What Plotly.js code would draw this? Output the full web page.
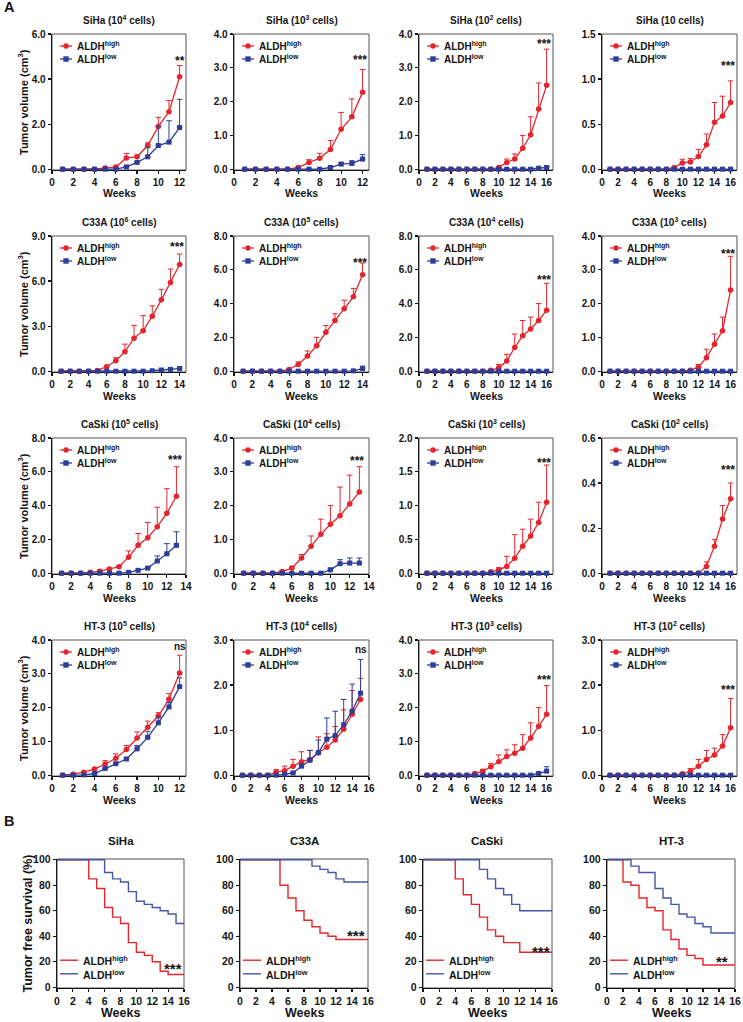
<!DOCTYPE html>
<html>
<head>
<meta charset="utf-8">
<script src="https://cdn.plot.ly/plotly-3.0.1.min.js"></script>
<style>
html,body{margin:0;padding:0;background:#ffffff;}
#chart{width:743px;height:1022px;}
</style>
</head>
<body>
<div id="chart"></div>
<script>
// ---------------- DATA ----------------
const weeks12 = [1,2,3,4,5,6,7,8,9,10,11,12];
const weeks13 = [1,2,3,4,5,6,7,8,9,10,11,12,13];
const weeks14 = [1,2,3,4,5,6,7,8,9,10,11,12,13,14];
const weeks15 = [1,2,3,4,5,6,7,8,9,10,11,12,13,14,15];
const weeks16 = [1,2,3,4,5,6,7,8,9,10,11,12,13,14,15,16];

// SiHa 10^4
const sihaE4High    = [0,0,0,0,0.05,0.1,0.5,0.55,1.05,1.9,2.55,4.1];
const sihaE4HighErr = [0,0,0,0,0.03,0.03,0.2,0.07,0.12,0.4,0.5,0.5];
const sihaE4Low     = [0,0,0,0,0,0,0.1,0.3,0.55,1.05,1.2,1.85];
const sihaE4LowErr  = [0,0,0,0,0,0,0.03,0.05,0.4,0.85,0.95,1.25];
// SiHa 10^3
const sihaE3High    = [0,0,0,0,0,0.05,0.2,0.32,0.58,1.18,1.55,2.28];
const sihaE3HighErr = [0,0,0,0,0,0.02,0.08,0.15,0.27,0.5,0.53,0.67];
const sihaE3Low     = [0,0,0,0,0,0,0,0,0.05,0.15,0.17,0.3];
const sihaE3LowErr  = [0,0,0,0,0,0,0,0,0.02,0.05,0.08,0.13];
// SiHa 10^2
const sihaE2High    = [0,0,0,0,0,0,0,0,0,0.05,0.2,0.3,0.62,1.02,1.78,2.48];
const sihaE2HighErr = [0,0,0,0,0,0,0,0,0,0.02,0.1,0.15,0.38,0.53,0.77,1.07];
const sihaE2Low     = [0,0,0,0,0,0,0,0,0,0,0,0,0,0,0.03,0.05];
const sihaE2LowErr  = [0,0,0,0,0,0,0,0,0,0,0,0,0,0,0.02,0.03];
// SiHa 10
const sihaE1High    = [0,0,0,0,0,0,0,0,0.02,0.07,0.08,0.14,0.27,0.52,0.59,0.74];
const sihaE1HighErr = [0,0,0,0,0,0,0,0,0.01,0.04,0.04,0.08,0.12,0.22,0.22,0.24];
const sihaE1Low     = [0,0,0,0,0,0,0,0,0,0,0,0,0,0,0,0];
const sihaE1LowErr  = [0,0,0,0,0,0,0,0,0,0,0,0,0,0,0,0];
// C33A 10^6
const c33aE6High    = [0,0,0,0,0.05,0.3,0.7,1.3,2.2,2.7,3.65,4.75,5.9,7.1];
const c33aE6HighErr = [0,0,0,0,0.03,0.08,0.2,0.5,0.85,1.0,0.7,0.7,0.9,0.7];
const c33aE6Low     = [0,0,0,0,0,0,0,0,0,0,0.03,0.08,0.12,0.17];
const c33aE6LowErr  = [0,0,0,0,0,0,0,0,0,0,0.02,0.04,0.08,0.13];
// C33A 10^5
const c33aE5High    = [0,0,0,0,0,0.1,0.4,0.9,1.5,2.3,3.0,3.7,4.4,5.7];
const c33aE5HighErr = [0,0,0,0,0,0.05,0.15,0.3,0.5,0.4,0.4,0.5,0.5,0.7];
const c33aE5Low     = [0,0,0,0,0,0,0,0,0,0,0,0,0.02,0.15];
const c33aE5LowErr  = [0,0,0,0,0,0,0,0,0,0,0,0,0.02,0.15];
// C33A 10^4
const c33aE4High    = [0,0,0,0,0,0,0,0,0.05,0.2,0.6,1.4,2.1,2.5,3.0,3.6];
const c33aE4HighErr = [0,0,0,0,0,0,0,0,0.03,0.2,0.4,0.8,0.9,0.7,1.0,1.6];
const c33aE4Low     = [0,0,0,0,0,0,0,0,0,0,0,0,0,0,0,0];
const c33aE4LowErr  = [0,0,0,0,0,0,0,0,0,0,0,0,0,0,0,0];
// C33A 10^3
const c33aE3High    = [0,0,0,0,0,0,0,0,0,0,0.03,0.12,0.4,0.8,1.2,2.4];
const c33aE3HighErr = [0,0,0,0,0,0,0,0,0,0,0.02,0.08,0.25,0.3,0.4,1.0];
const c33aE3Low     = [0,0,0,0,0,0,0,0,0,0,0,0,0,0,0,0];
const c33aE3LowErr  = [0,0,0,0,0,0,0,0,0,0,0,0,0,0,0,0];
// CaSki 10^5
const caskiE5High    = [0,0,0,0.05,0.12,0.25,0.38,0.95,1.65,2.1,2.75,3.55,4.55];
const caskiE5HighErr = [0,0,0,0.02,0.05,0.05,0.06,0.37,0.7,0.9,1.15,1.45,1.75];
const caskiE5Low     = [0,0,0,0,0,0,0,0.05,0.17,0.3,0.72,1.15,1.65];
const caskiE5LowErr  = [0,0,0,0,0,0,0,0.02,0.03,0.05,0.3,0.6,0.8];
// CaSki 10^4
const caskiE4High    = [0,0,0,0,0.05,0.15,0.45,0.8,1.15,1.45,1.7,2.05,2.4];
const caskiE4HighErr = [0,0,0,0,0.02,0.05,0.1,0.3,0.45,0.55,0.85,0.85,0.75];
const caskiE4Low     = [0,0,0,0,0,0,0,0,0,0.1,0.28,0.3,0.3];
const caskiE4LowErr  = [0,0,0,0,0,0,0,0,0,0.05,0.12,0.15,0.15];
// CaSki 10^3
const caskiE3High    = [0,0,0,0,0,0,0,0,0.02,0.05,0.1,0.22,0.4,0.55,0.75,1.05];
const caskiE3HighErr = [0,0,0,0,0,0,0,0,0.01,0.03,0.15,0.35,0.25,0.25,0.3,0.55];
const caskiE3Low     = [0,0,0,0,0,0,0,0,0,0,0,0,0,0,0,0];
const caskiE3LowErr  = [0,0,0,0,0,0,0,0,0,0,0,0,0,0,0,0];
// CaSki 10^2
const caskiE2High    = [0,0,0,0,0,0,0,0,0,0,0,0,0.03,0.12,0.24,0.33];
const caskiE2HighErr = [0,0,0,0,0,0,0,0,0,0,0,0,0.02,0.03,0.06,0.07];
const caskiE2Low     = [0,0,0,0,0,0,0,0,0,0,0,0,0,0,0,0];
const caskiE2LowErr  = [0,0,0,0,0,0,0,0,0,0,0,0,0,0,0,0];
// HT-3 10^5
const ht3E5High    = [0,0.03,0.09,0.18,0.33,0.5,0.76,1.1,1.42,1.75,2.25,3.02];
const ht3E5HighErr = [0,0.01,0.02,0.03,0.1,0.13,0.12,0.18,0.18,0.1,0.17,0.53];
const ht3E5Low     = [0,0,0.01,0.05,0.2,0.34,0.48,0.78,1.12,1.55,2.02,2.62];
const ht3E5LowErr  = [0,0,0,0.01,0.02,0.03,0.03,0.1,0.18,0.17,0.13,0.26];
// HT-3 10^4
const ht3E4High    = [0,0,0,0,0.07,0.1,0.2,0.3,0.35,0.5,0.62,0.78,1.02,1.35,1.68];
const ht3E4HighErr = [0,0,0,0,0.05,0.1,0.15,0.22,0.2,0.35,0.3,0.3,0.43,0.53,0.47];
const ht3E4Low     = [0,0,0,0,0,0.02,0.05,0.2,0.33,0.5,0.8,0.88,1.12,1.42,1.82];
const ht3E4LowErr  = [0,0,0,0,0,0.01,0.02,0.05,0.22,0.28,0.47,0.54,0.56,0.6,0.75];
// HT-3 10^3
const ht3E3High    = [0,0,0,0,0,0,0.05,0.12,0.25,0.4,0.55,0.65,0.8,1.1,1.45,1.8];
const ht3E3HighErr = [0,0,0,0,0,0,0.02,0.05,0.1,0.2,0.2,0.25,0.4,0.45,0.55,0.85];
const ht3E3Low     = [0,0,0,0,0,0,0,0,0,0,0,0,0,0,0.05,0.12];
const ht3E3LowErr  = [0,0,0,0,0,0,0,0,0,0,0,0,0,0,0.03,0.13];
// HT-3 10^2
const ht3E2High    = [0,0,0,0,0,0,0,0,0,0.03,0.08,0.2,0.35,0.45,0.65,1.05];
const ht3E2HighErr = [0,0,0,0,0,0,0,0,0,0.02,0.07,0.15,0.2,0.15,0.25,0.65];
const ht3E2Low     = [0,0,0,0,0,0,0,0,0,0,0,0,0,0,0,0];
const ht3E2LowErr  = [0,0,0,0,0,0,0,0,0,0,0,0,0,0,0,0];

const panelTitles = [
  'SiHa (10<sup>4</sup> cells)','SiHa (10<sup>3</sup> cells)','SiHa (10<sup>2</sup> cells)','SiHa (10 cells)',
  'C33A (10<sup>6</sup> cells)','C33A (10<sup>5</sup> cells)','C33A (10<sup>4</sup> cells)','C33A (10<sup>3</sup> cells)',
  'CaSki (10<sup>5</sup> cells)','CaSki (10<sup>4</sup> cells)','CaSki (10<sup>3</sup> cells)','CaSki (10<sup>2</sup> cells)',
  'HT-3 (10<sup>5</sup> cells)','HT-3 (10<sup>4</sup> cells)','HT-3 (10<sup>3</sup> cells)','HT-3 (10<sup>2</sup> cells)'
];
const panelWeeks = [weeks12,weeks12,weeks16,weeks16, weeks14,weeks14,weeks16,weeks16, weeks13,weeks13,weeks16,weeks16, weeks12,weeks15,weeks16,weeks16];
const panelHigh    = [sihaE4High,sihaE3High,sihaE2High,sihaE1High, c33aE6High,c33aE5High,c33aE4High,c33aE3High, caskiE5High,caskiE4High,caskiE3High,caskiE2High, ht3E5High,ht3E4High,ht3E3High,ht3E2High];
const panelHighErr = [sihaE4HighErr,sihaE3HighErr,sihaE2HighErr,sihaE1HighErr, c33aE6HighErr,c33aE5HighErr,c33aE4HighErr,c33aE3HighErr, caskiE5HighErr,caskiE4HighErr,caskiE3HighErr,caskiE2HighErr, ht3E5HighErr,ht3E4HighErr,ht3E3HighErr,ht3E2HighErr];
const panelLow     = [sihaE4Low,sihaE3Low,sihaE2Low,sihaE1Low, c33aE6Low,c33aE5Low,c33aE4Low,c33aE3Low, caskiE5Low,caskiE4Low,caskiE3Low,caskiE2Low, ht3E5Low,ht3E4Low,ht3E3Low,ht3E2Low];
const panelLowErr  = [sihaE4LowErr,sihaE3LowErr,sihaE2LowErr,sihaE1LowErr, c33aE6LowErr,c33aE5LowErr,c33aE4LowErr,c33aE3LowErr, caskiE5LowErr,caskiE4LowErr,caskiE3LowErr,caskiE2LowErr, ht3E5LowErr,ht3E4LowErr,ht3E3LowErr,ht3E2LowErr];

// axis tick ranges
const yTickMax  = [6,4,4,1.5, 9,8,8,4, 8,4,2,0.6, 4,3,4,3];
const yTickStep = [2,1,1,0.5, 3,2,2,1, 2,1,0.5,0.2, 1,1,1,1];
const xTickMax  = [12,12,16,16, 14,14,16,16, 14,14,16,16, 12,16,16,16];

// significance labels
const sigLabels = ['**','***','***','***', '***','***','***','***', '***','***','***','***', 'ns','ns','***','***'];
const sigWeek   = [12,11.8,15.7,15.7, 13.7,13.7,15.7,15.7, 12.8,12.8,15.7,15.7, 12,15.1,15.7,15.7];
const sigValue  = [4.95,3.33,3.8,1.18, 8.5,6.6,5.6,3.55, 6.86,3.4,1.68,0.47, 3.8,2.8,2.9,1.95];

// Kaplan-Meier (tumor free survival, %)
const kmTitles = ['SiHa','C33A','CaSki','HT-3'];
const sihaKmHighWeek  = [0,4,5,6,7,8,9,10,11,12,13,14,16];
const sihaKmHighPct   = [100,85,77.5,62.5,55,50,35,27.5,25,20,12.5,10,10];
const sihaKmLowWeek   = [0,6,7,8,9,10,11,12,13,14,15,16];
const sihaKmLowPct    = [100,90,85,82.5,75,67.5,65,62.5,60,57.5,50,50];
const c33aKmHighWeek  = [0,5,6,7,8,9,10,11,12,16];
const c33aKmHighPct   = [100,80,70,60,52.5,47.5,42.5,40,37.5,37.5];
const c33aKmLowWeek   = [0,9,10,11,12,13,16];
const c33aKmLowPct    = [100,95,92.5,90,85,82.5,82.5];
const caskiKmHighWeek = [0,4,5,6,7,8,9,10,12,16];
const caskiKmHighPct  = [100,85,72.5,65,55,45,40,35,27.5,27.5];
const caskiKmLowWeek  = [0,7,8,9,10,11,12,16];
const caskiKmLowPct   = [100,92.5,85,77.5,72.5,65,60,60];
const ht3KmHighWeek   = [0,2,3,4,5,6,7,8,9,10,11,12,16];
const ht3KmHighPct    = [100,82.5,80,70,62.5,60,45,37.5,30,25,22.5,17.5,17.5];
const ht3KmLowWeek    = [0,3,4,6,7,8,9,10,11,12,13,16];
const ht3KmLowPct     = [100,95,90,77.5,70,65,57.5,55,50,47.5,42.5,42.5];
const kmHighWeek = [sihaKmHighWeek,c33aKmHighWeek,caskiKmHighWeek,ht3KmHighWeek];
const kmHighPct  = [sihaKmHighPct,c33aKmHighPct,caskiKmHighPct,ht3KmHighPct];
const kmLowWeek  = [sihaKmLowWeek,c33aKmLowWeek,caskiKmLowWeek,ht3KmLowWeek];
const kmLowPct   = [sihaKmLowPct,c33aKmLowPct,caskiKmLowPct,ht3KmLowPct];
const kmSigLabels = ['***','***','***','**'];
const kmSigWeek   = [14.6,14.5,14.6,14.4];
const kmSigPct    = [17.7,43,31,22.8];

// ---------------- STYLE / LAYOUT ----------------
const FONT = '"Liberation Sans", Arial, Helvetica, sans-serif';
const INK = '#151515';
const RED = '#E3262E';
const BLUE = '#2E3D95';
const KM_RED = '#E5262D';
const KM_BLUE = '#4757A6';
const W = 743, H = 1022;

const colA = [[52,186],[234,369],[419,553],[602,737]];
const rowA = [[34,170],[236,372],[438,574],[640,776]];
const colB = [[57,184],[240,368],[423,552],[607,735]];
const rowB = [859,988];

const px2x = p => p / W;
const px2y = p => 1 - p / H;

const traces = [];
const shapes = [];
const annotations = [];
const layout = {
  width: W, height: H,
  margin: {l:0, r:0, t:0, b:0},
  paper_bgcolor: '#ffffff', plot_bgcolor: '#ffffff',
  showlegend: false,
  font: {family: FONT, color: INK},
  shapes: shapes, annotations: annotations
};

function txt(text, x, y, size, opts) {
  annotations.push(Object.assign({
    text: text, x: px2x(x), y: px2y(y), xref: 'paper', yref: 'paper',
    showarrow: false, xanchor: 'center', yanchor: 'middle',
    font: {family: FONT, size: size, color: INK, weight: 700}
  }, opts || {}));
}

function axisStyle(size) {
  return {
    showline: true, linecolor: INK, linewidth: 1.3,
    ticks: 'outside', ticklen: 3, tickwidth: 1.2, tickcolor: INK,
    showgrid: false, zeroline: false, fixedrange: true,
    tickfont: {family: FONT, size: size, color: INK, weight: 700},
    layer: 'below traces'
  };
}

function ids(n) {
  const s = n === 1 ? '' : String(n);
  return {xa: 'x' + s, ya: 'y' + s, xk: 'xaxis' + s, yk: 'yaxis' + s};
}

function seriesTrace(x, y, err, color, symbol, id, name) {
  return {
    type: 'scatter', mode: 'lines+markers', name: name,
    x: x, y: y, xaxis: id.xa, yaxis: id.ya,
    showlegend: false, cliponaxis: false, hoverinfo: 'skip',
    line: {color: color, width: 1.3},
    marker: {color: color, symbol: symbol, size: symbol === 'circle' ? 5.5 : 5, line: {width: 0}},
    error_y: {type: 'data', symmetric: false, array: err, arrayminus: err.map(() => 0),
              color: color, thickness: 1, width: 2.8, visible: true}
  };
}

// ---------- Panel A ----------
for (let i = 0; i < 16; i++) {
  const n = i + 1, r = Math.floor(i / 4), c = i % 4;
  const id = ids(n);
  const L = colA[c][0], R = colA[c][1], T = rowA[r][0], B = rowA[r][1];
  const wk = panelWeeks[i];
  const xEnd = wk[wk.length - 1] === xTickMax[i] ? xTickMax[i] * 1.05 : xTickMax[i];
  const ymax = yTickMax[i];
  layout[id.xk] = Object.assign(axisStyle(10), {
    domain: [px2x(L), px2x(R)], anchor: id.ya, range: [0, xEnd], tick0: 0, dtick: 2
  });
  layout[id.yk] = Object.assign(axisStyle(10), {
    domain: [px2y(B), px2y(T)], anchor: id.xa, range: [-ymax * 0.006, ymax],
    tick0: 0, dtick: yTickStep[i], tickformat: '.1f'
  });
  traces.push(seriesTrace(wk, panelHigh[i], panelHighErr[i], RED, 'circle', id, 'ALDH high'));
  traces.push(seriesTrace(wk, panelLow[i], panelLowErr[i], BLUE, 'square', id, 'ALDH low'));
  shapes.push({type: 'rect', xref: id.xa + ' domain', yref: id.ya + ' domain', x0: 0, x1: 1, y0: 0, y1: 1,
               line: {color: '#555555', width: 1}, layer: 'below'});
  txt(panelTitles[i], (L + R) / 2, T - 14, 10);
  txt('Weeks', (L + R) / 2, B + 23.5, 10.5);
  if (c === 0) txt('Tumor volume (cm<sup>3</sup>)', 23, (T + B) / 2, 11, {textangle: -90});
  // legend (symbol rows + one two-line label)
  [[T + 12, RED, 'circle'], [T + 25, BLUE, 'square']].forEach(function (e) {
    const y = e[0], col = e[1], s = 2.7;
    shapes.push({type: 'line', xref: 'paper', yref: 'paper', x0: px2x(L + 8), x1: px2x(L + 20),
                 y0: px2y(y), y1: px2y(y), line: {color: col, width: 1.3}});
    shapes.push({type: e[2] === 'circle' ? 'circle' : 'rect', xref: 'paper', yref: 'paper',
                 x0: px2x(L + 14 - s), x1: px2x(L + 14 + s), y0: px2y(y + s), y1: px2y(y - s),
                 fillcolor: col, line: {width: 0}});
  });
  txt('ALDH<sup>high</sup><br>ALDH<sup>low</sup>', L + 23, T + 18.5, 10, {xanchor: 'left', align: 'left'});
  // significance
  annotations.push({
    text: sigLabels[i], x: sigWeek[i], y: sigValue[i], xref: id.xa, yref: id.ya,
    showarrow: false, xanchor: 'center', yanchor: 'middle',
    yshift: sigLabels[i] === 'ns' ? 0 : -3,
    font: {family: FONT, size: sigLabels[i] === 'ns' ? 10 : 12, color: INK, weight: 700}
  });
}

// ---------- Panel B ----------
for (let k = 0; k < 4; k++) {
  const n = 17 + k;
  const id = ids(n);
  const L = colB[k][0], R = colB[k][1], T = rowB[0], B = rowB[1];
  layout[id.xk] = Object.assign(axisStyle(10.5), {
    domain: [px2x(L), px2x(R)], anchor: id.ya, range: [0, 16], tick0: 0, dtick: 2
  });
  layout[id.yk] = Object.assign(axisStyle(10.5), {
    domain: [px2y(B), px2y(T)], anchor: id.xa, range: [-0.6, 100.6], tick0: 0, dtick: 20
  });
  traces.push({type: 'scatter', mode: 'lines', name: 'ALDH high', x: kmHighWeek[k], y: kmHighPct[k],
               xaxis: id.xa, yaxis: id.ya, showlegend: false, hoverinfo: 'skip', cliponaxis: false,
               line: {shape: 'hv', color: KM_RED, width: 1.4}});
  traces.push({type: 'scatter', mode: 'lines', name: 'ALDH low', x: kmLowWeek[k], y: kmLowPct[k],
               xaxis: id.xa, yaxis: id.ya, showlegend: false, hoverinfo: 'skip', cliponaxis: false,
               line: {shape: 'hv', color: KM_BLUE, width: 1.4}});
  shapes.push({type: 'rect', xref: id.xa + ' domain', yref: id.ya + ' domain', x0: 0, x1: 1, y0: 0, y1: 1,
               line: {color: '#555555', width: 1}, layer: 'below'});
  txt(kmTitles[k], (L + R) / 2, T - 18, 11.5);
  txt('Weeks', (L + R) / 2, B + 25, 12.5);
  if (k === 0) txt('Tumor free survival (%)', 27, (T + B) / 2, 12.5, {textangle: -90});
  [[B - 27.8, KM_RED], [B - 14.2, KM_BLUE]].forEach(function (e) {
    shapes.push({type: 'line', xref: 'paper', yref: 'paper', x0: px2x(L + 3), x1: px2x(L + 21),
                 y0: px2y(e[0]), y1: px2y(e[0]), line: {color: e[1], width: 1.4}});
  });
  txt('ALDH<sup>high</sup><br>ALDH<sup>low</sup>', L + 24, B - 21, 10.5, {xanchor: 'left', align: 'left'});
  annotations.push({
    text: kmSigLabels[k], x: kmSigWeek[k], y: kmSigPct[k], xref: id.xa, yref: id.ya,
    showarrow: false, xanchor: 'center', yanchor: 'middle', yshift: -3.5,
    font: {family: FONT, size: 15, color: INK, weight: 700}
  });
}

// panel letters
txt('A', 2, 7, 14.5, {xanchor: 'left'});
txt('B', 2, 821, 14.5, {xanchor: 'left'});

Plotly.newPlot('chart', traces, layout, {displayModeBar: false, staticPlot: true});
</script>
</body>
</html>
